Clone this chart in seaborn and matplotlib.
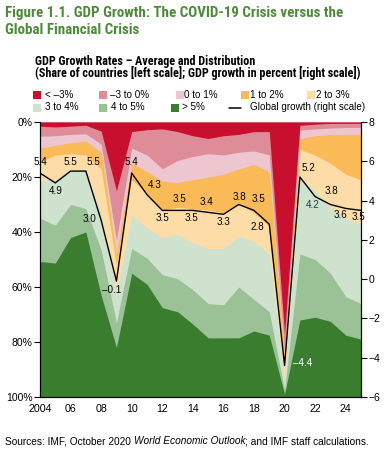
import matplotlib
matplotlib.use('Agg')
import matplotlib.pyplot as plt
from matplotlib import font_manager as fm
import seaborn as sns
import numpy as np
from matplotlib.patches import Rectangle
from matplotlib.lines import Line2D

# Data (share of countries, percent)
years = list(range(2004, 2026))
categories = ['< \u20133%', '\u20133 to 0%', '0 to 1%', '1 to 2%', '2 to 3%', '3 to 4%', '4 to 5%', '> 5%']
share_below_m3 = [1.5, 1.8, 1.5, 1.2, 3.3, 25, 3.5, 2.8, 2.5, 3.5, 5.0, 6.0, 5.0, 4.5, 3.5, 3.5, 77, 1.2, 0.8, 0.5, 0.5, 0.5]
share_m3_to_0 = [3.7, 3.2, 3.0, 3.1, 4.7, 18, 6.0, 9.2, 14.5, 10.5, 7.5, 5.5, 7.0, 6.5, 7.0, 8.5, 7, 1.8, 1.7, 1.7, 1.5, 1.5]
share_0_to_1 = [4.3, 3.5, 3.0, 2.7, 3.0, 5, 5.5, 6.0, 4.5, 8.0, 8.5, 8.5, 7.0, 6.0, 5.0, 6.0, 2, 3.0, 2.5, 2.3, 2.5, 2.5]
share_1_to_2 = [5.0, 3.5, 4.0, 5.0, 6.0, 4, 6.0, 8.0, 10.5, 9.0, 10.5, 12.0, 14.0, 12.5, 17.5, 20.0, 2, 4.0, 7.0, 10.5, 14.5, 16.5]
share_2_to_3 = [7.0, 9.0, 6.0, 5.5, 17.0, 10, 13.0, 12.5, 10.0, 10.0, 12.5, 14.0, 13.0, 12.0, 10.5, 10.0, 6, 10.0, 13.0, 16.0, 16.0, 16.0]
share_3_to_4 = [13.5, 16.5, 12.5, 14.0, 12.5, 11, 12.0, 11.0, 13.5, 16.0, 17.0, 20.0, 20.5, 18.5, 21.0, 21.0, 3.5, 28.0, 25.0, 24.0, 28.5, 29.0]
share_4_to_5 = [15.7, 13.8, 12.0, 8.5, 16.5, 9, 9.0, 9.5, 12.0, 12.0, 12.5, 12.5, 12.0, 18.5, 11.5, 8.5, 1.5, 24.0, 21.0, 17.5, 14.0, 13.0]
share_above_5 = [49.3, 48.7, 58.0, 60.0, 37.0, 18, 45.0, 41.0, 32.5, 31.0, 26.5, 21.5, 21.5, 21.5, 24.0, 22.5, 1, 28.0, 29.0, 27.5, 22.5, 21.0]

# Global growth in percent (right scale)
global_growth = [5.4, 4.9, 5.5, 5.5, 3.0, -0.1, 5.4, 4.3, 3.5, 3.5, 3.5, 3.4, 3.3, 3.8, 3.5, 2.8, -4.4, 5.2, 4.2, 3.8, 3.6, 3.5]

shares = [share_below_m3, share_m3_to_0, share_0_to_1, share_1_to_2,
          share_2_to_3, share_3_to_4, share_4_to_5, share_above_5]
colors = ['#C8102E', '#DE8C98', '#EEC6CF', '#F9BA57', '#FDDCA8', '#CFE2CE', '#9BC196', '#3B7D2F']

# label offsets in pixels (dx, dy) for each growth point
label_offsets = [(0, 11), (0, -8.5), (0, 9), (8, 9), (-12, 1), (-5, -9), (0, 11), (7.5, 10),
                 (0, -7.5), (1.5, 11), (-1, -7.5), (-1.5, 10.5), (0.5, -7.5), (0.5, 8),
                 (4, 11.5), (-11.5, -3), (18, 2.5), (8.5, 9), (-2, -8), (0.5, 13),
                 (-5.5, -7), (-3, -7)]

sns.set_theme(style='white')

# pick fonts: Arial-like body text, a narrow face for the headings if one is installed
font_names = {f.name for f in fm.fontManager.ttflist}
body_font = 'Liberation Sans' if 'Liberation Sans' in font_names else 'DejaVu Sans'
head_font, head_stretch = body_font, 'normal'
for cand in ['Liberation Sans Narrow', 'Roboto Condensed', 'Open Sans Condensed',
             'DejaVu Sans Condensed', 'Noto Sans Condensed']:
    if cand in font_names:
        head_font = cand
        break
else:
    for f in fm.fontManager.ttflist:
        if f.name in ('DejaVu Sans', 'Noto Sans', 'Open Sans', 'Roboto') and \
                str(f.stretch) in ('condensed', 'semi-condensed', 'extra-condensed'):
            head_font, head_stretch = f.name, str(f.stretch)
            break
plt.rcParams['font.family'] = [body_font, 'DejaVu Sans']
plt.rcParams['axes.unicode_minus'] = True

W, H = 388, 457
def px(x):
    return x / W
def py(y):
    return 1 - y / H

fig = plt.figure(figsize=(W / 100, H / 100), dpi=100)
r = fig.canvas.get_renderer()

def fit_size(text, target_px, base=8, **kw):
    t = fig.text(0, 0, text, fontsize=base, **kw)
    w = t.get_window_extent(r).width
    t.remove()
    return base * target_px / w

head_kw = dict(family=[head_font, 'DejaVu Sans'], fontstretch=head_stretch, fontweight='bold')
title_size = fit_size('Figure 1.1. GDP Growth: The COVID-19 Crisis versus the', 338, 10, **head_kw)
sub_size = fit_size('(Share of countries [left scale]; GDP growth in percent [right scale])', 327, 8, **head_kw)
legend_size = fit_size('Global growth (right scale)', 117, 8)
tick_size = fit_size('100%', 26.5, 8)
xtick_size = fit_size('2004', 23.5, 8)
label_size = fit_size('5.4', 13.5, 8)

ax = fig.add_axes([px(40), py(397), (361 - 40) / W, (397 - 122) / H])

# cumulative boundaries, drawn from the bottom layer up so no seams show
cum = np.cumsum(np.array(shares), axis=0)
for k in range(len(shares) - 1, -1, -1):
    ax.fill_between(years, 0, cum[k], color=colors[k], linewidth=0)

ax.set_xlim(2004, 2025)
ax.set_ylim(100, 0)
ax.set_yticks(range(0, 101, 20))
ax.set_yticklabels([f'{v}%' for v in range(0, 101, 20)])
ax.set_xticks(years)
ax.set_xticklabels(['2004' if y == 2004 else (f'{y % 100:02d}' if y % 2 == 0 else '') for y in years])
ax.tick_params(axis='y', left=True, direction='out', length=4, width=0.8, color='black',
               labelsize=tick_size, pad=1.5, labelcolor='black')
ax.tick_params(axis='x', bottom=True, direction='in', length=3, width=0.8, color='black',
               labelsize=xtick_size, pad=5, labelcolor='black')
for s in ['left', 'bottom', 'right']:
    ax.spines[s].set_color('black')
    ax.spines[s].set_linewidth(0.8)
ax.spines['top'].set_visible(False)

ax2 = ax.twinx()
sns.lineplot(x=years, y=global_growth, ax=ax2, color='black', linewidth=1.0, legend=False)
ax2.set_ylim(-6, 8)
ax2.set_yticks(range(-6, 9, 2))
ax2.tick_params(axis='y', right=True, direction='out', length=4, width=0.8, color='black',
                labelsize=tick_size, pad=1.5, labelcolor='black')
ax2.set_ylabel('')
for s in ['left', 'bottom', 'right']:
    ax2.spines[s].set_color('black')
    ax2.spines[s].set_linewidth(0.8)
ax2.spines['top'].set_visible(False)
ax2.grid(False)
ax.grid(False)

for i, (yr, g) in enumerate(zip(years, global_growth)):
    dx, dy = label_offsets[i]
    txt = f'{g:.1f}'.replace('-', '\u2013')
    col = 'black'
    if yr == 2020:
        col = 'white'
    elif yr == 2022:
        col = '#1f3b4d'
    ax2.annotate(txt, (yr, g), xytext=(dx, dy), textcoords='offset pixels',
                 ha='center', va='center', fontsize=label_size, color=col)

# titles
title_green = '#4E8A3A'
fig.text(px(5), py(17), 'Figure 1.1. GDP Growth: The COVID-19 Crisis versus the',
         fontsize=title_size, color=title_green, va='baseline', **head_kw)
fig.text(px(5), py(33.5), 'Global Financial Crisis',
         fontsize=title_size, color=title_green, va='baseline', **head_kw)
fig.text(px(35), py(64.5), 'GDP Growth Rates \u2013 Average and Distribution',
         fontsize=sub_size, color='black', va='baseline', **head_kw)
fig.text(px(35), py(77), '(Share of countries [left scale]; GDP growth in percent [right scale])',
         fontsize=sub_size, color='black', va='baseline', **head_kw)

# legend, drawn by hand to keep the reference's two uneven rows
legend_slots = [(32.7, 45, 94.5), (99.3, 110, 94.5), (175.7, 184.5, 94.5), (240.7, 250, 94.5),
                (306.7, 316, 94.5), (32.7, 45, 107.5), (99.3, 110.7, 107.5), (170.7, 181.7, 107.5)]
for k, (sx, tx, cy) in enumerate(legend_slots):
    fig.patches.append(Rectangle((px(sx), py(cy + 4)), 8 / W, 8 / H, transform=fig.transFigure,
                                 facecolor=colors[k], edgecolor='none'))
    fig.text(px(tx), py(cy), categories[k], fontsize=legend_size, va='center', color='black')
fig.lines.append(Line2D([px(229.3), px(240.7)], [py(107.5), py(107.5)], transform=fig.transFigure,
                        color='black', linewidth=1.1))
fig.text(px(250), py(107.5), 'Global growth (right scale)', fontsize=legend_size, va='center', color='black')

# source line with italic publication name
def draw_source(size):
    parts = [('Sources: IMF, October 2020 ', 'normal'), ('World Economic Outlook', 'italic'),
             ('; and IMF staff calculations.', 'normal')]
    x = px(5)
    made = []
    for s, st in parts:
        t = fig.text(x, py(444.5), s, fontsize=size, style=st, va='baseline', color='black')
        made.append(t)
        x = t.get_window_extent(r).x1 / fig.bbox.width
    return made, x * W - 5

made, width = draw_source(7.5)
for t in made:
    t.remove()
draw_source(7.5 * 365 / width)

fig.savefig('out.png', dpi=100)
